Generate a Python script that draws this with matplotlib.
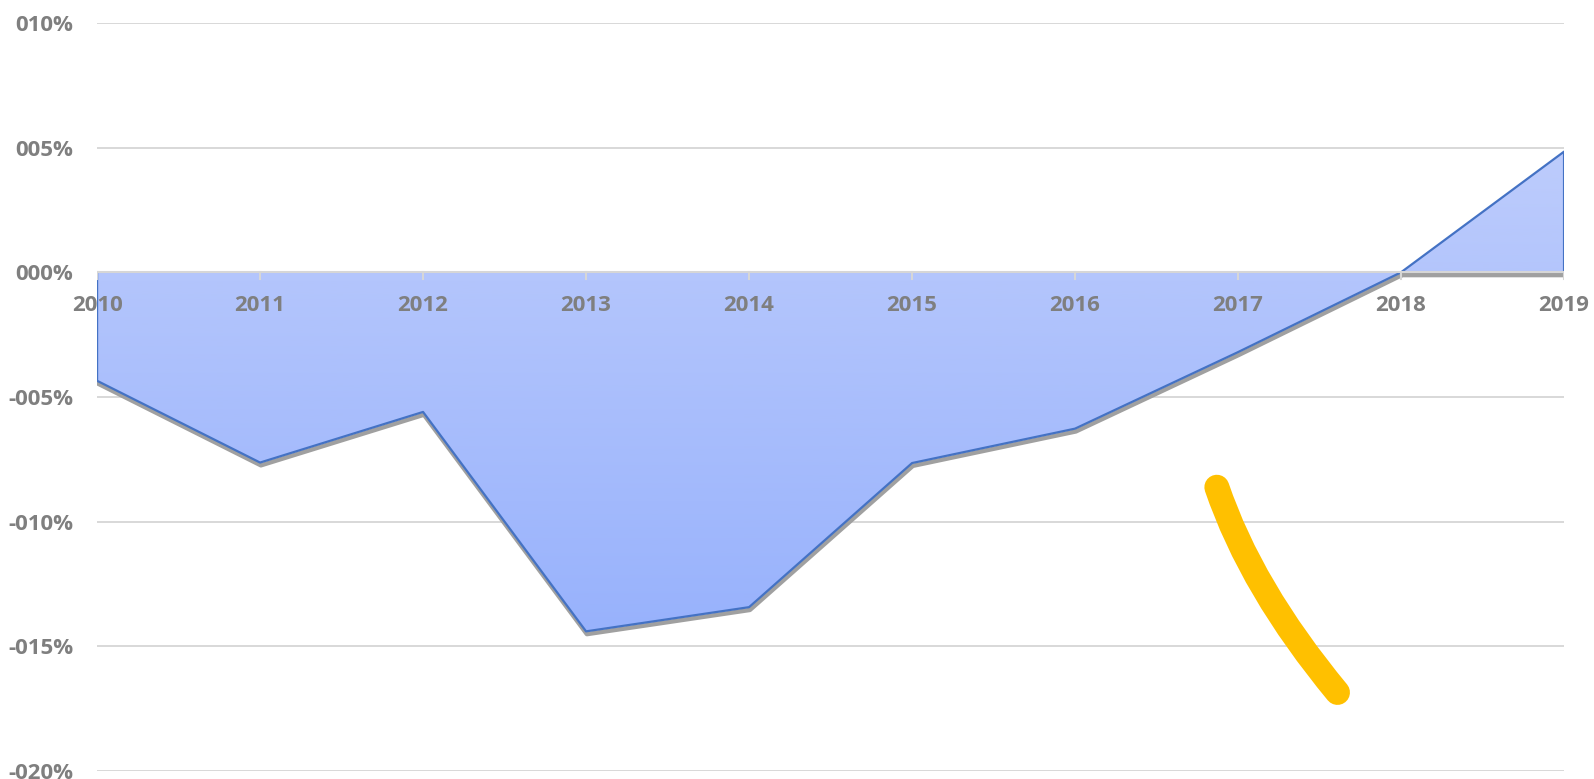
import numpy as np
import matplotlib.pyplot as plt
from matplotlib.path import Path
from matplotlib.patches import PathPatch, Polygon
import matplotlib.patheffects as pe

# ------------------------- Data -------------------------
years = ['2010', '2011', '2012', '2013', '2014', '2015', '2016', '2017', '2018', '2019']
values = [-4.35, -7.63, -5.60, -14.40, -13.43, -7.65, -6.27, -3.20, 0.0, 4.84]   # percent

y_ticks = [10, 5, 0, -5, -10, -15, -20]
y_labels = ['010%', '005%', '000%', '-005%', '-010%', '-015%', '-020%']

# hand drawn yellow stroke: start, control, end (category index, percent)
stroke_x = [6.87, 7.08, 7.61]
stroke_y = [-8.62, -12.67, -16.85]

# ------------------------- Plot -------------------------
plt.rcParams['font.family'] = ['Open Sans', 'DejaVu Sans']
label_color = '#7f7f7f'
grid_color = '#d6d6d6'

fig = plt.figure(figsize=(15.94, 7.79), dpi=100)
ax = fig.add_axes([0.0609, 0.0103, 0.9203, 0.9602])

x = np.arange(len(years))
y = np.array(values)

ax.set_xlim(0, len(years) - 1)
ax.set_ylim(-20, 10)

# gridlines
for t in y_ticks:
    ax.axhline(t, color=grid_color, lw=1.3, zorder=0)

# outline of the area (closed along zero)
ox = np.concatenate([[x[0]], x, [x[-1]]])
oy = np.concatenate([[0], y, [0]])

# shadow under the whole shape
ax.plot(np.append(ox, ox[0]), np.append(oy, oy[0]), color='#a0a0a0', lw=3.2,
        solid_joinstyle='round', zorder=1,
        path_effects=[pe.Stroke(offset=(0.6, -2.0))])

# gradient fill clipped to the area
poly = Polygon(np.column_stack([ox, oy]), closed=True, facecolor='none', edgecolor='none')
ax.add_patch(poly)
top_c = np.array([189, 204, 252]) / 255
bot_c = np.array([152, 178, 252]) / 255
n = 256
t = np.linspace(0, 1, n)[:, None]
grad = (top_c[None, :] * (1 - t) + bot_c[None, :] * t)[:, None, :]
im = ax.imshow(grad, extent=[x[0], x[-1], y.min(), y.max()], origin='upper',
               aspect='auto', zorder=2, interpolation='bilinear')
im.set_clip_path(poly)

# blue border (top line and the two vertical edges)
ax.plot(ox, oy, color='#4472c4', lw=1.6, solid_joinstyle='round', zorder=3)

# category axis at zero
ax.axhline(0, color=grid_color, lw=1.5, zorder=4)
for i in x:
    ax.plot([i, i], [0, -0.28], color=grid_color, lw=1.5, zorder=4)

# category labels along the zero line
for i, lab in zip(x, years):
    ax.annotate(lab, (i, 0), xytext=(0, -28), textcoords='offset points',
                ha='center', va='baseline', fontsize=16, fontweight='bold',
                color=label_color, zorder=5, annotation_clip=False)

# yellow stroke
verts = list(zip(stroke_x, stroke_y))
stroke = PathPatch(Path(verts, [Path.MOVETO, Path.CURVE3, Path.CURVE3]),
                   fill=False, edgecolor='#ffc000', lw=18, capstyle='round', zorder=6)
ax.add_patch(stroke)

# axes styling
ax.set_yticks(y_ticks)
ax.set_yticklabels(y_labels, fontsize=16, fontweight='bold', color=label_color)
ax.tick_params(axis='y', length=0, pad=17)
ax.set_xticks([])
for s in ax.spines.values():
    s.set_visible(False)

fig.savefig('out.png', dpi=100)
